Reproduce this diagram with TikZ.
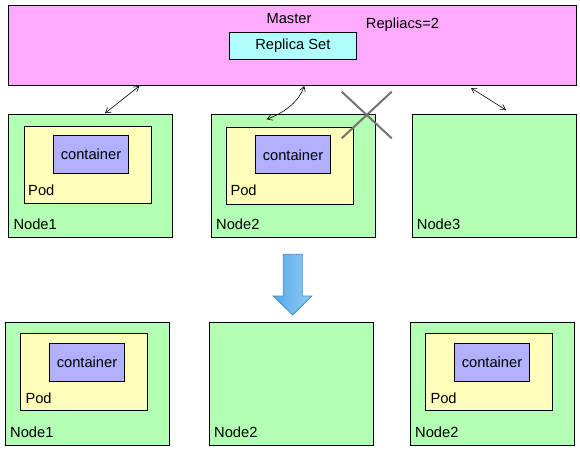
\documentclass[tikz,border=0pt]{standalone}
\usepackage{fontspec}
\setmainfont{Liberation Sans}
\usetikzlibrary{arrows.meta}
\definecolor{masterpink}{HTML}{FFAAFF}
\definecolor{replcyan}{HTML}{AFFFFF}
\definecolor{nodegreen}{HTML}{B3FFB3}
\definecolor{podyellow}{HTML}{FFFFBB}
\definecolor{ctrblue}{HTML}{B0B0FF}
\definecolor{arrowdark}{HTML}{5AA5E8}
\definecolor{arrowlight}{HTML}{8FCFF7}
\definecolor{arrowedge}{HTML}{3A8AD6}
\begin{document}
\begin{tikzpicture}[x=1pt, y=-1pt,
    font=\fontsize{14.7}{17}\selectfont,
    box/.style={draw, line width=1pt, rectangle, inner sep=0pt, anchor=north west},
    worker/.style={box, fill=nodegreen, minimum width=164pt, minimum height=122.4pt},
    pod/.style={box, fill=podyellow, minimum width=127pt, minimum height=77pt},
    ctr/.style={box, fill=ctrblue, minimum width=74.4pt, minimum height=38pt},
    tag/.style={inner sep=0pt, anchor=base west},
    link/.style={line width=0.6pt, {Straight Barb[length=5pt,width=6pt]}-{Straight Barb[length=5pt,width=6pt]}},
    cross/.style={draw=black!55, line width=2pt},
    bigarrow/.style={draw=arrowedge, line width=0.8pt, left color=arrowdark, right color=arrowlight},
  ]
    \useasboundingbox (0,0) rectangle (580,452);
    % master
    \node[box, fill=masterpink, minimum width=567.7pt, minimum height=80pt] (master) at (8,5){};
    \node (mtag) at (289,19){Master};
    \node[inner sep=0pt, anchor=west] (reps) at (365.7,25){Repliacs=2};
    \node[box, fill=replcyan, minimum width=126.7pt, minimum height=27.6pt] (rs) at (229,31.7){Replica Set};
    % before
    \node[worker] (n1) at (8.3,114.3){};
    \node[pod] (p1) at (24,126.3){};
    \node[ctr] (c1) at (53.3,135){container};
    \node[tag] (p1t) at ([shift={(4,-8.6)}]p1.south west){Pod};
    \node[tag] (n1t) at ([shift={(5,-8.4)}]n1.south west){Node1};
    \node[worker] (n2) at (211,114.3){};
    \node[pod] (p2) at (226.3,126.5){};
    \node[ctr] (c2) at (255.3,135.3){container};
    \node[tag] (p2t) at ([shift={(4,-8.6)}]p2.south west){Pod};
    \node[tag] (n2t) at ([shift={(5,-8.4)}]n2.south west){Node2};
    \node[worker] (n3) at (411.7,114.3){};
    \node[tag] (n3t) at ([shift={(5,-8.4)}]n3.south west){Node3};
    \coordinate (m1) at (139.3,86);
    \coordinate (t1) at (105,113.3);
    \coordinate (m2) at (304.3,86);
    \coordinate (t2) at (266.7,119.3);
    \coordinate (m3) at (471,88);
    \coordinate (t3) at (506,110);
    \draw[link] (m1) -- (t1);
    \draw[link] (m2) .. controls (299,101) and (286,112) .. (t2);
    \draw[link] (m3) -- (t3);
    % node2 lost
    \draw[cross] (341.7,91.7) -- (391.7,138.3);
    \draw[cross] (391.7,91.7) -- (341.7,138.3);
    \shadedraw[bigarrow] (283.3,254.3) -- (302.3,254.3) -- (302.3,296) -- (311.7,296)
      -- (292.7,315) -- (273.3,296) -- (283.3,296) -- cycle;
    % after
    \node[worker] (b1) at (5.3,322.3){};
    \node[pod] (q1) at (20.3,333.3){};
    \node[ctr] (d1) at (49.3,343){container};
    \node[tag] (q1t) at ([shift={(5,-8)}]q1.south west){Pod};
    \node[tag] (b1t) at ([shift={(4.7,-8.3)}]b1.south west){Node1};
    \node[worker] (b2) at (209.3,322.3){};
    \node[tag] (b2t) at ([shift={(4.7,-8.3)}]b2.south west){Node2};
    \node[worker] (b3) at (410.3,322.3){};
    \node[pod] (q3) at (425.3,333.3){};
    \node[ctr] (d3) at (454.3,343){container};
    \node[tag] (q3t) at ([shift={(5,-8)}]q3.south west){Pod};
    \node[tag] (b3t) at ([shift={(4.7,-8.3)}]b3.south west){Node2};
  \end{tikzpicture}
\end{document}
